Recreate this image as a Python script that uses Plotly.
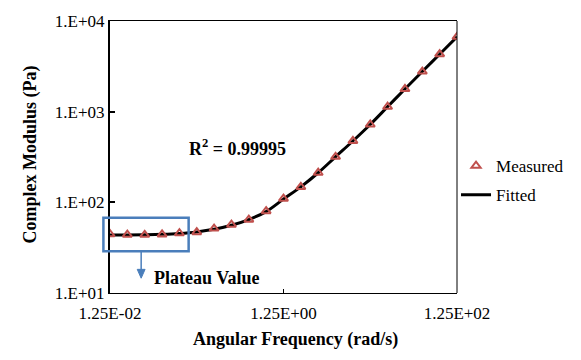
import plotly.graph_objects as go

# Angular frequency (rad/s)
freq = [0.0125, 0.0198, 0.0314, 0.0498, 0.0789, 0.125, 0.198, 0.314, 0.498, 0.789,
        1.25, 1.98, 3.14, 4.98, 7.89, 12.5, 19.8, 31.4, 49.8, 78.9, 125]
# Measured complex modulus (Pa)
measured = [44.6, 44.0, 43.8, 44.3, 45.6, 46.9, 51.3, 56.7, 64.3, 79.8,
            109.6, 148, 212, 318, 475, 722, 1133, 1778, 2770, 4300, 6700]
# Fitted complex modulus (Pa)
fitted = [43.5, 43.6, 43.9, 44.4, 45.4, 47.2, 50.4, 55.8, 64.5, 79.0,
          108.5, 148, 212, 318, 475, 722, 1133, 1778, 2770, 4300, 6700]

x_ticks = [0.0125, 1.25, 125]
x_ticktext = ["1.25E-02", "1.25E+00", "1.25E+02"]
y_ticks = [10, 100, 1000, 10000]
y_ticktext = ["1.E+01", "1.E+02", "1.E+03", "1.E+04"]

SERIF = "Liberation Serif, Times New Roman, DejaVu Serif, serif"
RED = "#c0504d"
BLUE = "#4a7ebb"

fig = go.Figure()
fig.add_trace(go.Scatter(x=freq, y=fitted, mode="lines", name="Fitted",
                         legendgroup="b", legendrank=2,
                         line=dict(color="black", width=3, shape="spline")))
fig.add_trace(go.Scatter(x=freq, y=measured, mode="markers", name="Measured",
                         legendgroup="a", legendrank=1,
                         marker=dict(symbol="triangle-up-open", size=8, color=RED,
                                     line=dict(color=RED, width=2))))

W, H = 581, 360
L, R, T, B = 110, 118, 17, 67
pw, ph = W - L - R, H - T - B

def px(xp):
    return (xp - L) / pw

def py(yp):
    return (H - B - yp) / ph

ax_x = px(141.7)
fig.update_layout(
    width=W, height=H,
    margin=dict(l=L, r=R, t=T, b=B),
    paper_bgcolor="white", plot_bgcolor="white",
    font=dict(family=SERIF, size=17, color="black"),
    showlegend=True,
    legend=dict(x=px(462), y=py(146), xanchor="left", yanchor="top",
                traceorder="grouped", tracegroupgap=4,
                font=dict(size=17, family=SERIF),
                bgcolor="rgba(0,0,0,0)", itemwidth=30),
    xaxis=dict(type="log", range=[-1.90309, 2.09691], tickvals=x_ticks, ticktext=x_ticktext,
               ticks="inside", ticklen=4, tickwidth=1, tickcolor="black",
               showline=True, linecolor="black", linewidth=1, mirror=True,
               showgrid=False, zeroline=False, tickfont=dict(size=17, family=SERIF),
               ticklabelstandoff=5),
    yaxis=dict(type="log", range=[1, 4], tickvals=y_ticks, ticktext=y_ticktext,
               ticks="inside", ticklen=5, tickwidth=2, tickcolor="black",
               showline=True, linecolor="black", linewidth=2, mirror=False,
               showgrid=False, zeroline=False, tickfont=dict(size=17, family=SERIF)),
    shapes=[
        dict(type="line", xref="paper", yref="paper", x0=1, x1=1, y0=0, y1=1,
             line=dict(color="black", width=1)),
        dict(type="rect", xref="paper", yref="paper",
             x0=px(103.3), x1=px(190), y0=py(250.7), y1=py(216.7),
             line=dict(color=BLUE, width=2.5)),
        dict(type="line", xref="paper", yref="paper", x0=ax_x, x1=ax_x,
             y0=py(251), y1=py(270), line=dict(color=BLUE, width=1.5)),
        dict(type="path", xref="paper", yref="paper",
             path=f"M {px(137.7)},{py(269)} L {px(145.7)},{py(269)} L {ax_x},{py(278)} Z",
             fillcolor=BLUE, line=dict(color=BLUE, width=1)),
    ],
    annotations=[
        dict(xref="paper", yref="paper", x=px(153), y=py(278), text="<b>Plateau Value</b>",
             showarrow=False, xanchor="left", yanchor="middle", font=dict(size=18, family=SERIF)),
        dict(xref="paper", yref="paper", x=px(240), y=py(145), text="<b>R<sup>2</sup> = 0.99995</b>",
             showarrow=False, xanchor="center", yanchor="middle", font=dict(size=18, family=SERIF)),
        dict(xref="paper", yref="paper", x=px(299), y=py(340), text="<b>Angular Frequency (rad/s)</b>",
             showarrow=False, xanchor="center", yanchor="middle", font=dict(size=18, family=SERIF)),
        dict(xref="paper", yref="paper", x=px(29), y=py(152), text="<b>Complex Modulus (Pa)</b>",
             showarrow=False, xanchor="center", yanchor="middle", textangle=-90,
             font=dict(size=18, family=SERIF)),
    ],
)

fig.write_html("out.html")
